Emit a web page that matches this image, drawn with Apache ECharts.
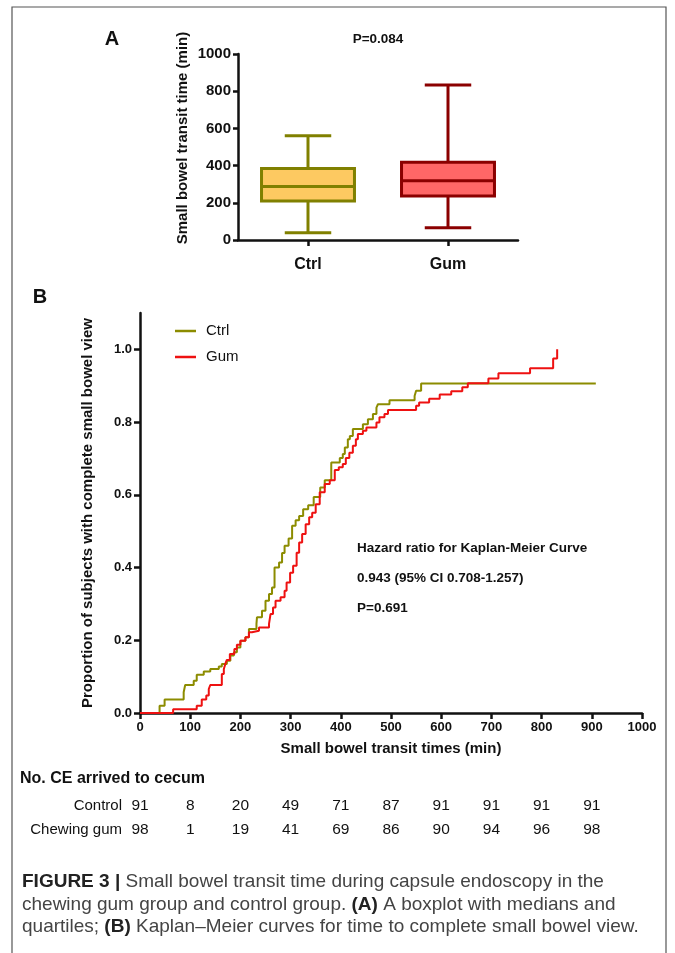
<!DOCTYPE html>
<html><head><meta charset="utf-8">
<script src="https://cdn.jsdelivr.net/npm/echarts@6/dist/echarts.min.js"></script>
<style>html,body{margin:0;padding:0;background:#fff}#c{width:675px;height:953px}</style>
</head><body><div id="c"></div>
<script>
// ---------- DATA ----------
const boxCategories = ['Ctrl', 'Gum'];
// [min, Q1, median, Q3, max]
const ctrlBox = [39, 210, 287, 384, 560];
const gumBox = [66, 237, 318, 418, 833];
const boxYTicks = [0, 200, 400, 600, 800, 1000];

const ctrlKM = [[0,0],[39,0.02],[49,0.037],[87,0.057],[90,0.077],[107,0.089],[113,0.105],[127,0.114],[140,0.121],[157,0.128],[163,0.135],[173,0.144],[180,0.158],[187,0.167],[193,0.18],[200,0.199],[210,0.208],[217,0.231],[232,0.245],[233,0.263],[243,0.281],[250,0.309],[257,0.327],[263,0.345],[268,0.40],[277,0.414],[283,0.44],[288,0.46],[296,0.48],[303,0.515],[310,0.53],[317,0.542],[325,0.56],[335,0.571],[346,0.594],[359,0.62],[368,0.64],[381,0.689],[398,0.701],[404,0.712],[408,0.73],[414,0.753],[418,0.762],[424,0.781],[444,0.794],[454,0.808],[464,0.822],[471,0.84],[474,0.849],[497,0.86],[547,0.872],[550,0.886],[560,0.906],[908,0.906]];
const gumKM = [[0,0],[66,0.01],[113,0.02],[123,0.037],[132,0.048],[137,0.066],[140,0.077],[163,0.107],[167,0.121],[170,0.135],[173,0.146],[179,0.162],[188,0.176],[193,0.188],[200,0.199],[210,0.208],[217,0.222],[223,0.226],[237,0.235],[257,0.245],[260,0.272],[265,0.29],[270,0.309],[280,0.318],[288,0.336],[292,0.359],[299,0.386],[305,0.405],[312,0.441],[317,0.469],[323,0.492],[330,0.519],[337,0.538],[343,0.551],[350,0.574],[358,0.607],[368,0.63],[378,0.64],[388,0.668],[396,0.676],[404,0.685],[410,0.701],[417,0.716],[424,0.735],[430,0.753],[434,0.767],[444,0.776],[451,0.785],[471,0.799],[477,0.813],[487,0.822],[494,0.833],[550,0.845],[556,0.854],[576,0.864],[597,0.876],[620,0.885],[642,0.896],[653,0.907],[694,0.92],[714,0.934],[777,0.948],[823,0.975],[831,1.0]];
const kmYTicks = [0, 0.2, 0.4, 0.6, 0.8, 1.0];

const atRiskTimes = [0, 100, 200, 300, 400, 500, 600, 700, 800, 900];
const controlAtRisk = [91, 8, 20, 49, 71, 87, 91, 91, 91, 91];
const gumAtRisk = [98, 1, 19, 41, 69, 86, 90, 94, 96, 98];

const hazardLines = ['Hazard ratio for Kaplan-Meier Curve', '0.943 (95% CI 0.708-1.257)', 'P=0.691'];
const captionLines = [
  '{b|FIGURE 3 |} Small bowel transit time during capsule endoscopy in the',
  'chewing gum group and control group. {b|(A)} A boxplot with medians and',
  'quartiles; {b|(B)} Kaplan\u2013Meier curves for time to complete small bowel view.'
];

// ---------- STYLE ----------
const FF = '"Liberation Sans", Arial, Helvetica, sans-serif';
const INK = '#111';
const boxFills = ['#FDC961', '#FF6767'];
const boxBorders = ['#808000', '#8B0000'];
const kmColors = ['#8C8C00', '#EE1111'];

const chart = echarts.init(document.getElementById('c'), null, {renderer: 'canvas'});

const axisLine = {show: true, lineStyle: {color: INK, width: 2.5}};

function renderBox(params, api) {
  const cat = api.value(0);
  const vals = [1, 2, 3, 4, 5].map(d => api.value(d));
  const p = vals.map(v => api.coord([cat, v]));
  const cx = p[0][0];
  const band = api.size([1, 0])[0];
  const bw = band * 0.664;
  const cap = bw / 2;
  const i = params.dataIndex;
  const ls = {stroke: boxBorders[i], lineWidth: 3, fill: 'none'};
  return {
    type: 'group',
    children: [
      {type: 'line', shape: {x1: cx, y1: p[0][1], x2: cx, y2: p[1][1]}, style: ls},
      {type: 'line', shape: {x1: cx, y1: p[3][1], x2: cx, y2: p[4][1]}, style: ls},
      {type: 'line', shape: {x1: cx - cap / 2, y1: p[0][1], x2: cx + cap / 2, y2: p[0][1]}, style: ls},
      {type: 'line', shape: {x1: cx - cap / 2, y1: p[4][1], x2: cx + cap / 2, y2: p[4][1]}, style: ls},
      {type: 'rect', shape: {x: cx - bw / 2, y: p[3][1], width: bw, height: p[1][1] - p[3][1]},
        style: {fill: boxFills[i], stroke: boxBorders[i], lineWidth: 3}},
      {type: 'line', shape: {x1: cx - bw / 2, y1: p[2][1], x2: cx + bw / 2, y2: p[2][1]}, style: ls}
    ]
  };
}

const option = {
  animation: false,
  backgroundColor: '#fff',
  textStyle: {fontFamily: FF},
  grid: [
    {left: 238, right: 157, top: 54, bottom: 713},
    {left: 140, right: 33, top: 313, bottom: 240}
  ],
  legend: {
    data: ['Ctrl', 'Gum'],
    orient: 'vertical',
    left: 170, top: 318,
    icon: 'rect', itemWidth: 21, itemHeight: 2.5, itemGap: 10,
    textStyle: {fontFamily: FF, fontSize: 15, color: INK, lineHeight: 16, padding: [0, 0, 0, 5]},
    selectedMode: false
  },
  xAxis: [
    {
      type: 'category', gridIndex: 0, data: boxCategories,
      axisLine: axisLine,
      axisTick: {show: true, alignWithLabel: true, length: 6, lineStyle: {color: INK, width: 2.5}},
      axisLabel: {fontFamily: FF, fontWeight: 'bold', fontSize: 16, color: INK, margin: 17},
      splitLine: {show: false}
    },
    {
      type: 'value', gridIndex: 1, min: 0, max: 1000, interval: 100,
      axisLine: axisLine,
      axisTick: {show: true, length: 6, lineStyle: {color: INK, width: 2.5}},
      axisLabel: {fontFamily: FF, fontWeight: 'bold', fontSize: 13, color: INK, margin: 8,
        formatter: v => String(v)},
      splitLine: {show: false},
      name: 'Small bowel transit times (min)', nameLocation: 'middle', nameGap: 28,
      nameTextStyle: {fontFamily: FF, fontWeight: 'bold', fontSize: 15, color: INK}
    }
  ],
  yAxis: [
    {
      type: 'value', gridIndex: 0, min: 0, max: 1000, interval: 200,
      axisLine: axisLine,
      axisTick: {show: true, length: 5, lineStyle: {color: INK, width: 2.5}},
      axisLabel: {fontFamily: FF, fontWeight: 'bold', fontSize: 15, color: INK, margin: 7,
        formatter: v => String(v)},
      splitLine: {show: false}
    },
    {
      type: 'value', gridIndex: 1, min: 0, max: 1.1,
      axisLine: axisLine,
      axisTick: {show: true, length: 6, lineStyle: {color: INK, width: 2.5}, customValues: kmYTicks},
      axisLabel: {fontFamily: FF, fontWeight: 'bold', fontSize: 13, color: INK, margin: 8,
        customValues: kmYTicks, formatter: v => Number(v).toFixed(1)},
      splitLine: {show: false},
      name: 'Proportion of subjects with complete small bowel view', nameLocation: 'middle', nameGap: 45,
      nameTextStyle: {fontFamily: FF, fontWeight: 'bold', fontSize: 15, color: INK}
    }
  ],
  series: [
    {
      type: 'custom', xAxisIndex: 0, yAxisIndex: 0,
      renderItem: renderBox,
      encode: {x: 0, y: [1, 2, 3, 4, 5]},
      data: [ctrlBox, gumBox].map((v, i) => [i].concat(v)),
      silent: true
    },
    {
      name: 'Ctrl', type: 'line', xAxisIndex: 1, yAxisIndex: 1, step: 'end',
      data: ctrlKM, showSymbol: false, symbol: 'none',
      lineStyle: {color: kmColors[0], width: 2}, itemStyle: {color: kmColors[0]},
      emphasis: {disabled: true}
    },
    {
      name: 'Gum', type: 'line', xAxisIndex: 1, yAxisIndex: 1, step: 'end',
      data: gumKM, showSymbol: false, symbol: 'none',
      lineStyle: {color: kmColors[1], width: 2}, itemStyle: {color: kmColors[1]},
      emphasis: {disabled: true}
    }
  ]
};
chart.setOption(option);

function txt(x, y, text, opts) {
  opts = opts || {};
  const align = opts.align || 'left';
  const va = opts.va || 'middle';
  return {
    type: 'text', x: x, y: y, rotation: opts.rotation || 0, silent: true,
    style: Object.assign({
      text: text, fill: opts.fill || INK,
      fontFamily: opts.family || FF, fontSize: opts.size || 14, fontWeight: opts.bold ? 'bold' : 'normal',
      align: align, verticalAlign: va, textAlign: align, textVerticalAlign: va
    }, opts.extra || {})
  };
}

const g = [];
// frame
g.push({type: 'rect', silent: true, shape: {x: 12, y: 7, width: 654, height: 960},
  style: {fill: 'none', stroke: '#555', lineWidth: 1.2}});
g.push(txt(112, 39, 'A', {bold: true, size: 20, align: 'center'}));
g.push(txt(40, 297, 'B', {bold: true, size: 20, align: 'center'}));
g.push(txt(378, 39, 'P=0.084', {bold: true, size: 13.5, align: 'center'}));
g.push(txt(183, 138, 'Small bowel transit time (min)', {bold: true, size: 15, align: 'center', rotation: Math.PI / 2}));
hazardLines.forEach((s, i) => g.push(txt(357, 548 + i * 30, s, {bold: true, size: 13.5})));
// at-risk table
g.push(txt(20, 779, 'No. CE arrived to cecum', {bold: true, size: 16}));
g.push(txt(122, 806, 'Control', {size: 15, align: 'right'}));
g.push(txt(122, 830, 'Chewing gum', {size: 15, align: 'right'}));
atRiskTimes.forEach((t, i) => {
  const px = chart.convertToPixel({xAxisIndex: 1}, t);
  g.push(txt(px, 806, String(controlAtRisk[i]), {size: 15.5, align: 'center'}));
  g.push(txt(px, 830, String(gumAtRisk[i]), {size: 15.5, align: 'center'}));
});
// caption
captionLines.forEach((s, i) => g.push(txt(22, 882 + i * 22.5, s, {size: 19, fill: '#444',
  extra: {rich: {b: {fontFamily: FF, fontSize: 19, fontWeight: 'bold', fill: '#222'}}}})));

chart.setOption({graphic: {elements: g}});
</script>
</body></html>
